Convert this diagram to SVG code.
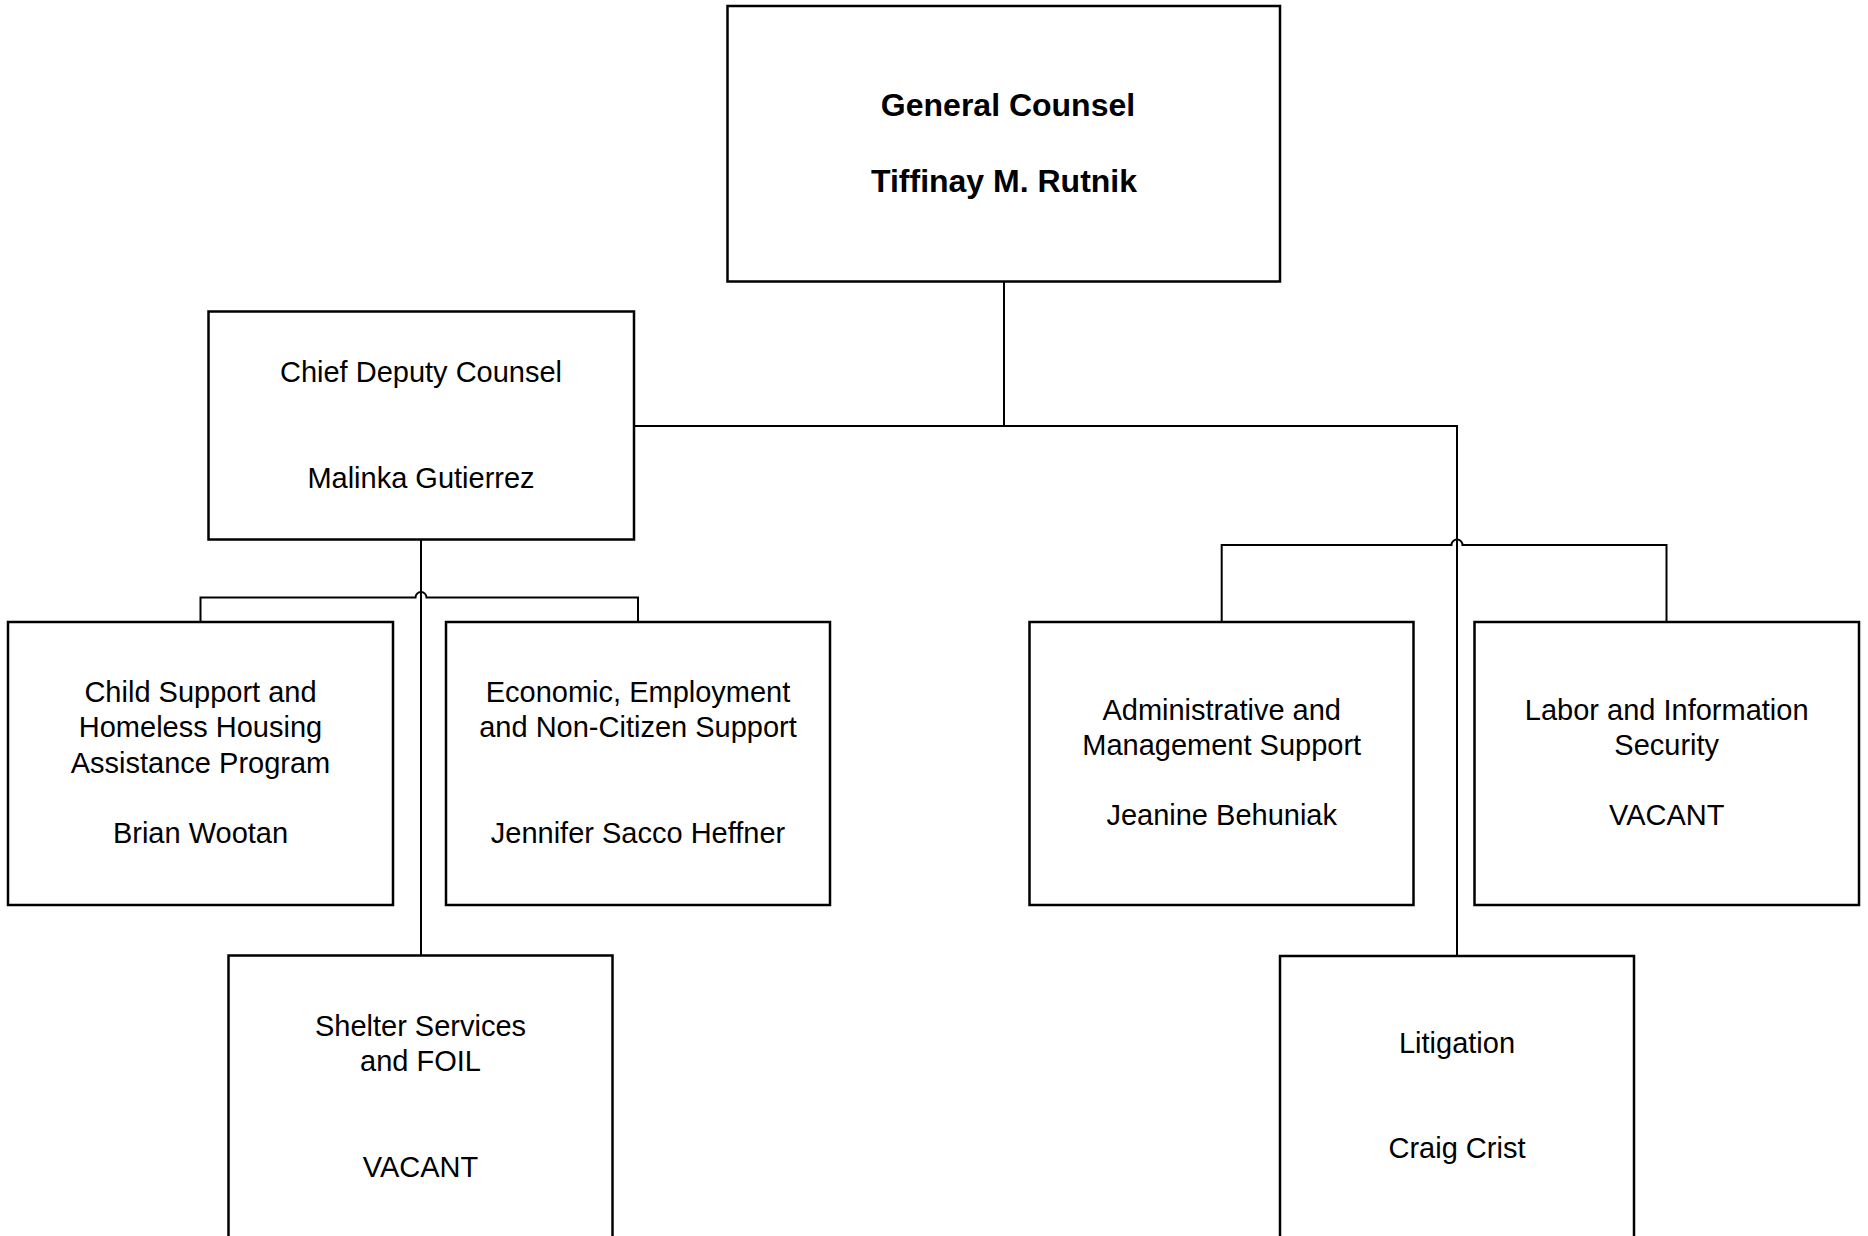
<svg xmlns="http://www.w3.org/2000/svg" width="1868" height="1236" viewBox="0 0 1868 1236">
<style>
.box{fill:#fff;stroke:#000;stroke-width:2.5}
.con{fill:none;stroke:#000;stroke-width:2}
text{font-family:"Liberation Sans",Arial,sans-serif;font-size:29px;fill:#000;text-anchor:middle}
.b{font-weight:bold;font-size:32px}
</style>
<rect width="1868" height="1236" fill="#fff"/>
<g id="connectors">
<path class="con" d="M1004,282 V426"/>
<path class="con" d="M634,426 H1457 V956"/>
<path class="con" d="M421,540 V955"/>
<path class="con" d="M200.5,622 V597.5 H415.5 a5.5,5.5 0 0 1 11,0 H638 V622"/>
<path class="con" d="M1221.7,622 V545 H1451.5 a5.5,5.5 0 0 1 11,0 H1666.5 V622"/>
</g>
<g id="general-counsel">
<rect class="box" x="727.5" y="6" width="552.5" height="275.5"/>
<text class="b" x="1008" y="116">General Counsel</text>
<text class="b" x="1004" y="192">Tiffinay M. Rutnik</text>
</g>
<g id="chief-deputy">
<rect class="box" x="208.5" y="311.5" width="425.5" height="228"/>
<text x="421" y="381.5">Chief Deputy Counsel</text>
<text x="421" y="488">Malinka Gutierrez</text>
</g>
<g id="child-support">
<rect class="box" x="8" y="622" width="385" height="283"/>
<text x="200.5" y="701.5">Child Support and</text>
<text x="200.5" y="737">Homeless Housing</text>
<text x="200.5" y="772.5">Assistance Program</text>
<text x="200.5" y="843">Brian Wootan</text>
</g>
<g id="economic">
<rect class="box" x="446" y="622" width="384" height="283"/>
<text x="638" y="701.5">Economic, Employment</text>
<text x="638" y="737">and Non-Citizen Support</text>
<text x="638" y="843">Jennifer Sacco Heffner</text>
</g>
<g id="shelter">
<rect class="box" x="228.5" y="955.5" width="384" height="330"/>
<text x="420.5" y="1036">Shelter Services</text>
<text x="420.5" y="1070.5">and FOIL</text>
<text x="420.5" y="1176.5">VACANT</text>
</g>
<g id="administrative">
<rect class="box" x="1029.5" y="622" width="384" height="283"/>
<text x="1221.7" y="719.5">Administrative and</text>
<text x="1221.7" y="754.5">Management Support</text>
<text x="1221.7" y="824.5">Jeanine Behuniak</text>
</g>
<g id="labor">
<rect class="box" x="1474.5" y="622" width="384.5" height="283"/>
<text x="1666.7" y="719.5">Labor and Information</text>
<text x="1666.7" y="754.5">Security</text>
<text x="1666.7" y="824.5">VACANT</text>
</g>
<g id="litigation">
<rect class="box" x="1280" y="956" width="354" height="330"/>
<text x="1457" y="1052.5">Litigation</text>
<text x="1457" y="1158">Craig Crist</text>
</g>
</svg>
